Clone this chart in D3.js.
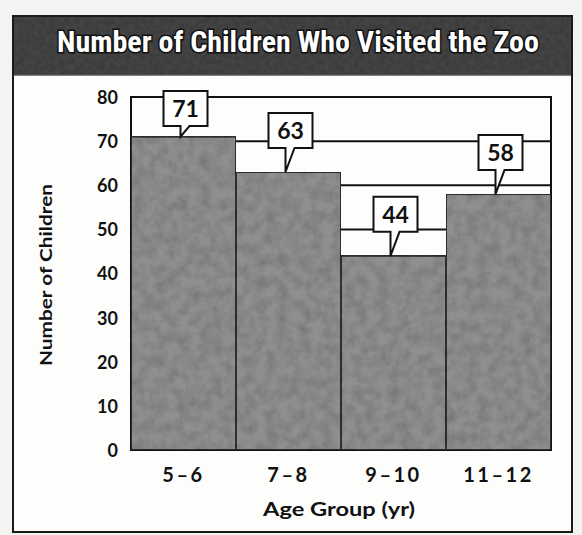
<!DOCTYPE html>
<html><head><meta charset="utf-8">
<script src="https://cdn.jsdelivr.net/npm/d3@7"></script>
<style>
html,body{margin:0;padding:0;background:#f3f3f1;}
svg{display:block;}
</style></head>
<body>
<svg id="c" width="582" height="535"></svg>
<script>
const title = "Number of Children Who Visited the Zoo";
const categories = ["5\u20136", "7\u20138", "9\u201310", "11\u201312"];
const values = [71, 63, 44, 58];
const yTicks = [0, 10, 20, 30, 40, 50, 60, 70, 80];
const yTitle = "Number of Children";
const xTitle = "Age Group (yr)";

const svg = d3.select("#c");
const defs = svg.append("defs");
function grain(id, freq, a, b, seed){
  const f = defs.append("filter").attr("id",id).attr("x","0").attr("y","0").attr("width","1").attr("height","1");
  f.append("feTurbulence").attr("type","fractalNoise").attr("baseFrequency",freq).attr("numOctaves","4").attr("seed",seed).attr("result","n");
  f.append("feColorMatrix").attr("in","n").attr("type","matrix")
   .attr("values",`0 0 0 0 0  0 0 0 0 0  0 0 0 0 0  0 0 0 ${a} ${b}`).attr("result","a");
  f.append("feComposite").attr("in","a").attr("in2","SourceGraphic").attr("operator","in").attr("result","b");
  const fm = f.append("feMerge");
  fm.append("feMergeNode").attr("in","SourceGraphic");
  fm.append("feMergeNode").attr("in","b");
}
grain("grain", "0.09", 0.55, -0.18, 7);
grain("grain2", "0.2", 0.5, -0.15, 3);

// page frame
svg.append("rect").attr("x",13).attr("y",16).attr("width",559).attr("height",516)
  .attr("fill","#fdfdfc").attr("stroke","#1a1a1a").attr("stroke-width",2);
// title bar
svg.append("rect").attr("x",14).attr("y",17).attr("width",557).attr("height",58)
  .attr("fill","#444").attr("filter","url(#grain2)");
svg.append("line").attr("x1",14).attr("x2",571).attr("y1",75).attr("y2",75).attr("stroke","#555").attr("stroke-width",1.5);
const tt = svg.append("text").text(title)
  .attr("x",298).attr("y",52).attr("text-anchor","middle")
  .attr("font-family","Roboto, 'Open Sans', sans-serif")
  .style("font-stretch","75%")
  .attr("font-weight","bold").attr("font-size",30)
  .attr("fill","#ffffff").attr("stroke","#111").attr("stroke-width",3).attr("paint-order","stroke");
const tw = tt.node().getComputedTextLength();
if (tw > 492) tt.attr("font-size", 30 * 492 / tw);

const x0 = 131, x1 = 551, yTop = 97, yBot = 450;
const x = d3.scaleBand().domain(categories).range([x0, x1]).padding(0);
const y = d3.scaleLinear().domain([0, 80]).range([yBot, yTop]);

// gridlines + plot border (behind bars)
const g = svg.append("g");
g.selectAll("line.grid").data(yTicks.filter(d => d > 0 && d < 80)).join("line")
  .attr("x1",x0).attr("x2",x1).attr("y1",d=>y(d)).attr("y2",d=>y(d))
  .attr("stroke","#111").attr("stroke-width",2);
g.append("rect").attr("x",x0).attr("y",y(80)).attr("width",x1-x0).attr("height",y(0)-y(80))
  .attr("fill","none").attr("stroke","#111").attr("stroke-width",2);

// bars
svg.append("g").selectAll("rect").data(values).join("rect")
  .attr("x",(d,i)=>x(categories[i]))
  .attr("y",d=>y(d))
  .attr("width",x.bandwidth())
  .attr("height",d=>y(0)-y(d))
  .attr("fill","#8f8f8f").attr("stroke","#333").attr("stroke-width",2)
  .attr("filter","url(#grain)");

const lab = "Lato, 'Open Sans', sans-serif";
// y axis labels
const yAxis = d3.axisLeft(y).tickValues(yTicks).tickSize(0).tickPadding(0);
const ya = svg.append("g").attr("transform","translate(118,0)").call(yAxis);
ya.select(".domain").remove();
ya.selectAll("text").attr("font-family",lab).attr("font-weight","bold")
  .attr("font-size",18).attr("fill","#111").attr("dy","0.36em");

// x axis labels
const xAxis = d3.axisBottom(x).tickSize(0).tickPadding(0);
const xa = svg.append("g").attr("transform","translate(0,482)").call(xAxis);
xa.select(".domain").remove();
xa.selectAll("text").attr("font-family",lab).attr("font-weight","bold")
  .attr("font-size",20).attr("fill","#111").attr("dy",0).attr("letter-spacing","2.5px");

// axis titles
svg.append("text").text(xTitle).attr("x",339).attr("y",516).attr("text-anchor","middle")
  .attr("font-family",lab).attr("font-weight","bold")
  .attr("font-size",19).attr("fill","#111").attr("textLength",152).attr("lengthAdjust","spacingAndGlyphs");
svg.append("text").text(yTitle).attr("transform","translate(52,275) rotate(-90)").attr("text-anchor","middle")
  .attr("font-family",lab).attr("font-weight","bold")
  .attr("font-size",17).attr("fill","#111").attr("textLength",182).attr("lengthAdjust","spacingAndGlyphs");

// callouts
const bw = 44, bh = 35;
const cg = svg.append("g").selectAll("g").data(values).join("g");
cg.each(function(d,i){
  const cx = x(categories[i]) + x.bandwidth()/2;
  const tipX = cx - 3, tipY = y(d);
  let top = tipY - 24 - bh;
  top = Math.max(top, y(80) - 6);
  const bot = top + bh;
  const bx = cx + 2 - bw/2;
  const p = d3.path();
  p.moveTo(bx, top); p.lineTo(bx+bw, top); p.lineTo(bx+bw, bot);
  p.lineTo(tipX+9, bot); p.lineTo(tipX, tipY); p.lineTo(tipX, bot);
  p.lineTo(bx, bot); p.closePath();
  d3.select(this).append("path").attr("d",p.toString()).attr("fill","#fff")
    .attr("stroke","#111").attr("stroke-width",2).attr("stroke-linejoin","miter");
  d3.select(this).append("text").text(d).attr("x",bx+bw/2).attr("y",top+26)
    .attr("text-anchor","middle").attr("font-family",lab)
    .attr("font-weight","bold").attr("font-size",23).attr("fill","#111");
});
</script>
</body></html>
